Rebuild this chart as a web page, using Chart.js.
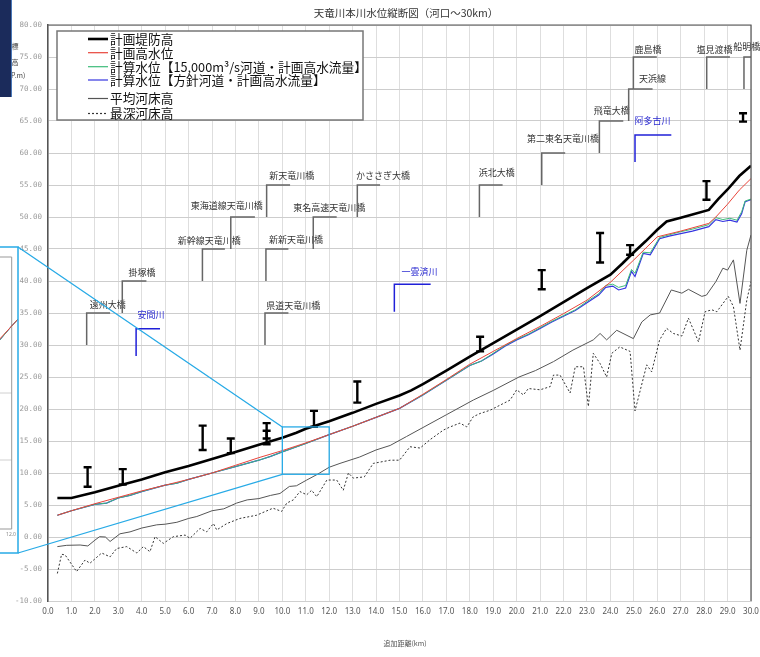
<!DOCTYPE html>
<html>
<head>
<meta charset="utf-8">
<script src="https://cdn.jsdelivr.net/npm/chart.js@4.4.1/dist/chart.umd.min.js"></script>
<style>
  body { margin: 0; background: #fff; }
  #wrap { position: relative; width: 760px; height: 657px; overflow: hidden; }
  #navy { position: absolute; left: 0; top: 0; width: 11px; height: 97px; background: #1b2b5b; border-right: 1px solid #4a78b8; }
</style>
</head>
<body>
<div id="wrap">
  <canvas id="profile" width="760" height="657"></canvas>
  <div id="navy"></div>
</div>
<script>
// 計画堤防高
const levKm = [0.4, 1.0, 2, 3, 4, 5, 6, 7, 8, 9, 10, 10.6, 11, 12, 13, 14, 15, 15.5, 16, 17, 18, 19, 20, 21, 22, 23, 24, 24.5, 25, 25.5, 26, 26.4, 27, 27.5, 28.2, 28.6, 29, 29.5, 30];
const levZ  = [6.1, 6.1, 7.0, 8.0, 9.0, 10.1, 11.1, 12.2, 13.3, 14.4, 15.5, 16.3, 16.9, 18.1, 19.4, 20.8, 22.1, 22.9, 23.9, 26.0, 28.2, 30.3, 32.4, 34.5, 36.7, 38.9, 41.0, 42.7, 44.5, 46.2, 48.0, 49.3, 49.9, 50.4, 51.1, 52.8, 54.3, 56.4, 58.0];

// 計画高水位
const hwlKm = [0.4, 1, 2, 3, 4, 5, 6, 7, 8, 9, 10, 11, 12, 13, 14, 15, 16, 17, 18, 19, 20, 21, 22, 23, 24, 25, 26, 27, 28.2, 28.5, 29, 29.5, 30];
const hwlZ  = [3.4, 4.1, 5.2, 6.2, 7.2, 8.1, 9.0, 10.0, 11.2, 12.4, 13.5, 14.7, 16.0, 17.3, 18.7, 20.1, 22.3, 24.6, 27.0, 29.0, 31.0, 32.9, 34.9, 37.0, 39.8, 43.3, 46.9, 47.8, 49.0, 50.0, 52.0, 54.2, 56.0];

// 計算水位 (both cases share the same sections)
const calcKm = [0.4, 1, 2, 2.5, 3, 3.5, 4, 5, 5.5, 6, 7, 8, 9, 9.5, 10, 11, 12, 13, 14, 15, 16, 17, 18, 18.5, 19, 19.5, 20, 20.5, 21, 21.5, 22, 22.5, 23, 23.5, 23.8, 24.1, 24.35, 24.65, 24.9, 25.05, 25.4, 25.7, 26.1, 26.5, 27, 27.5, 28.2, 28.5, 28.8, 29.1, 29.4, 29.6, 29.75, 30];
const calc15kZ = [3.4, 4.1, 5.1, 5.3, 6.1, 6.5, 7.1, 8.1, 8.4, 9.0, 10.0, 11.0, 12.0, 12.6, 13.3, 14.6, 16.0, 17.3, 18.7, 20.1, 22.2, 24.5, 26.8, 27.5, 28.7, 29.9, 30.9, 31.7, 32.7, 33.7, 34.6, 35.5, 36.8, 38.0, 39.3, 39.5, 39.0, 39.3, 41.8, 41.2, 44.5, 44.4, 46.8, 47.2, 47.7, 48.1, 48.8, 49.9, 49.6, 49.8, 49.5, 50.8, 52.5, 52.8];
const calcPlanZ = [3.4, 4.1, 5.1, 5.3, 6.1, 6.5, 7.1, 8.1, 8.4, 9.0, 10.0, 11.0, 12.0, 12.6, 13.3, 14.6, 16.0, 17.3, 18.7, 20.1, 22.2, 24.5, 26.8, 27.5, 28.6, 29.8, 30.8, 31.6, 32.6, 33.6, 34.5, 35.4, 36.6, 37.8, 39.0, 39.2, 38.6, 38.9, 41.5, 40.7, 44.3, 44.1, 46.6, 47.0, 47.4, 47.8, 48.5, 49.6, 49.3, 49.5, 49.2, 50.5, 52.4, 52.7];

// 平均河床高
const avgKm = [0.4, 0.8, 1.37, 1.7, 2.0, 2.2, 2.45, 2.65, 3.07, 3.5, 4.0, 4.64, 5.0, 5.5, 6.0, 6.35, 7.0, 7.5, 8.05, 8.5, 9.0, 9.5, 9.9, 10.3, 10.6, 11.04, 11.5, 12.0, 12.46, 13.3, 14.0, 14.6, 15.3, 16, 17, 18.15, 19, 20.1, 20.8, 21.57, 22.4, 23.27, 23.56, 23.84, 24.27, 24.98, 25.34, 25.7, 26.1, 26.6, 27.05, 27.33, 27.9, 28.1, 28.5, 28.8, 29.0, 29.25, 29.53, 29.82, 30.0];
const avgZ  = [-1.5, -1.3, -1.25, -1.4, -0.5, 0.05, 0.0, -0.7, 0.5, 0.8, 1.4, 1.9, 2.0, 2.3, 2.9, 3.2, 4.1, 4.4, 5.3, 5.8, 6.0, 6.5, 6.8, 7.9, 8.0, 8.9, 9.8, 10.9, 11.5, 12.5, 13.6, 14.3, 15.7, 17.1, 19.1, 21.4, 22.9, 25.0, 26.0, 27.4, 29.2, 30.8, 31.8, 30.8, 32.3, 31.0, 33.6, 34.7, 35.0, 38.6, 38.1, 38.7, 37.6, 37.8, 39.9, 42.0, 41.7, 43.3, 36.5, 44.8, 47.2];

// 最深河床高
const deepKm = [0.4, 0.58, 0.73, 1.22, 1.58, 1.79, 2.29, 2.65, 2.93, 3.36, 3.79, 4.07, 4.35, 4.57, 4.92, 5.35, 5.85, 6.06, 6.49, 6.77, 7.06, 7.2, 7.63, 8.19, 8.9, 9.6, 9.97, 10.19, 10.47, 10.75, 11.04, 11.25, 11.47, 11.9, 12.32, 12.6, 12.82, 13.03, 13.5, 13.88, 14.6, 15.0, 15.45, 15.88, 16.3, 16.87, 17.16, 17.58, 17.87, 18.15, 18.44, 18.86, 19.29, 19.72, 20.0, 20.29, 20.5, 21.0, 21.43, 21.57, 21.85, 22.28, 22.5, 22.85, 23.06, 23.27, 23.56, 23.84, 24.06, 24.4, 24.84, 25.05, 25.55, 25.76, 26.1, 26.4, 26.69, 27.05, 27.33, 27.76, 28.04, 28.33, 28.54, 29.03, 29.25, 29.53, 29.82, 30.0];
const deepZ  = [-5.7, -2.7, -2.8, -5.4, -3.6, -4.1, -2.5, -3.1, -1.8, -1.5, -2.5, -1.5, -2.3, 0.05, -1.0, 0.05, 0.3, -0.2, 1.35, 0.8, 2.1, 1.1, 2.1, 2.9, 3.4, 4.5, 4.0, 5.3, 5.8, 7.1, 6.6, 7.3, 6.3, 8.9, 8.9, 7.3, 10.0, 9.2, 9.4, 11.5, 12.0, 12.0, 14.1, 13.9, 15.2, 16.7, 17.2, 17.8, 17.2, 18.8, 19.3, 19.8, 20.6, 21.4, 23.0, 22.2, 23.2, 23.0, 23.5, 25.3, 25.3, 22.5, 26.6, 26.6, 20.4, 28.7, 27.1, 25.0, 28.7, 29.7, 29.0, 19.7, 26.9, 25.8, 30.8, 32.6, 31.8, 31.4, 34.2, 30.5, 35.2, 35.5, 35.2, 37.6, 36.0, 29.2, 37.0, 39.9];

// 現況堤防高の範囲 (I marks)
const markKm  = [1.69, 3.19, 6.6, 7.8, 9.33, 9.33, 11.35, 13.2, 18.44, 21.07, 23.56, 24.84, 28.1, 29.66];
const markTop = [10.9, 10.6, 17.4, 15.4, 17.8, 16.6, 19.7, 24.3, 31.3, 41.7, 47.5, 45.6, 55.6, 66.2];
const markBot = [7.85, 8.2, 13.6, 13.1, 14.5, 15.4, 17.2, 21.0, 29.0, 38.7, 42.9, 44.1, 52.7, 64.9];

// 橋梁
const bridgeName = ['遠州大橋', '掛塚橋', '新幹線天竜川橋', '東海道線天竜川橋', '新天竜川橋', '新新天竜川橋', '県道天竜川橋', '東名高速天竜川橋', 'かささぎ大橋', '浜北大橋', '第二東名天竜川橋', '飛竜大橋', '天浜線', '鹿島橋', '塩見渡橋', '船明橋'];
const bridgeKm   = [1.65, 3.17, 6.59, 7.8, 9.33, 9.3, 9.26, 11.32, 13.2, 18.41, 21.07, 23.53, 24.78, 24.98, 28.11, 29.7];
const bridgeLow  = [30, 35, 40, 45, 50, 40, 30, 45, 50, 50, 55, 60, 65, 70, 70, 70];
const bridgeHigh = [35, 40, 45, 50, 55, 45, 35, 50, 55, 55, 60, 65, 70, 75, 75, 75];
const bridgeEnd  = [2.65, 4.2, 7.55, 8.83, 10.33, 10.26, 10.26, 12.32, 14.17, 19.4, 22.07, 24.55, 25.8, 25.98, 29.1, 30];
const bridgeTxtKm = [2.55, 4.01, 6.88, 7.63, 10.4, 10.58, 10.47, 12.0, 14.3, 19.15, 21.98, 24.06, 25.8, 25.6, 28.44, 29.82];
const bridgeTxtZ  = [36.25, 41.3, 46.25, 51.8, 56.45, 46.4, 36.1, 51.5, 56.45, 57.0, 62.3, 66.7, 71.7, 76.2, 76.2, 76.6];

// 支川合流点
const tribName = ['安間川', '一雲済川', '阿多古川'];
const tribKm   = [3.76, 14.78, 25.05];
const tribLow  = [28.3, 35.2, 58.6];
const tribHigh = [32.55, 39.5, 62.8];
const tribEnd  = [4.78, 16.33, 26.6];
const tribTxtKm = [4.4, 15.85, 25.8];
const tribTxtZ  = [34.7, 41.45, 65.05];

// 拡大範囲
const zoomKm = [10, 12];
const zoomZ = [9.8, 17.2];

const pts = (xs, ys) => xs.map((x, i) => ({ x: x, y: ys[i] }));

Chart.defaults.font.family = "'Noto Sans CJK JP', 'Noto Sans', sans-serif";

const datasets = [
  { label: '計画堤防高', data: pts(levKm, levZ), borderColor: '#000', borderWidth: 2.6 },
  { label: '計画高水位', data: pts(hwlKm, hwlZ), borderColor: '#e8443a', borderWidth: 1 },
  { label: '計算水位【15,000m³/s河道・計画高水流量】', data: pts(calcKm, calc15kZ), borderColor: '#3dbb7a', borderWidth: 1 },
  { label: '計算水位【方針河道・計画高水流量】', data: pts(calcKm, calcPlanZ), borderColor: '#3535e0', borderWidth: 1.2 },
  { label: '平均河床高', data: pts(avgKm, avgZ), borderColor: '#555', borderWidth: 1 },
  { label: '最深河床高', data: pts(deepKm, deepZ), borderColor: '#333', borderWidth: 1, borderDash: [2, 2] }
];
datasets.forEach(d => { d.pointRadius = 0; d.fill = false; d.tension = 0; });

function bracket(ctx, xs, ys, km, low, high, end) {
  ctx.beginPath();
  ctx.moveTo(xs.getPixelForValue(km), ys.getPixelForValue(low));
  ctx.lineTo(xs.getPixelForValue(km), ys.getPixelForValue(high));
  ctx.lineTo(xs.getPixelForValue(end), ys.getPixelForValue(high));
  ctx.stroke();
}

const overlay = {
  id: 'overlay',
  beforeDatasetsDraw(chart) {
    const ctx = chart.ctx, xs = chart.scales.x, ys = chart.scales.y;
    ctx.save();
    ctx.textAlign = 'center';
    ctx.textBaseline = 'middle';
    ctx.font = "9px 'Noto Sans CJK JP'";
    // bridges
    ctx.strokeStyle = '#666';
    ctx.lineWidth = 1.5;
    bridgeName.forEach((n, i) => {
      bracket(ctx, xs, ys, bridgeKm[i], bridgeLow[i], bridgeHigh[i], bridgeEnd[i]);
      ctx.fillStyle = '#333';
      ctx.fillText(n, xs.getPixelForValue(bridgeTxtKm[i]), ys.getPixelForValue(bridgeTxtZ[i]));
    });
    // tributaries
    ctx.strokeStyle = '#2020d8';
    tribName.forEach((n, i) => {
      bracket(ctx, xs, ys, tribKm[i], tribLow[i], tribHigh[i], tribEnd[i]);
      ctx.fillStyle = '#2a2ad0';
      ctx.fillText(n, xs.getPixelForValue(tribTxtKm[i]), ys.getPixelForValue(tribTxtZ[i]));
    });
    ctx.restore();
  },
  afterDatasetsDraw(chart) {
    const ctx = chart.ctx, xs = chart.scales.x, ys = chart.scales.y, a = chart.chartArea;
    ctx.save();

    // I marks
    ctx.strokeStyle = '#000';
    ctx.lineWidth = 2.4;
    markKm.forEach((km, i) => {
      const x = xs.getPixelForValue(km), t = ys.getPixelForValue(markTop[i]), b = ys.getPixelForValue(markBot[i]);
      ctx.beginPath();
      ctx.moveTo(x, t); ctx.lineTo(x, b);
      ctx.moveTo(x - 4, t); ctx.lineTo(x + 4, t);
      ctx.moveTo(x - 4, b); ctx.lineTo(x + 4, b);
      ctx.stroke();
    });

    // frame top / right
    ctx.strokeStyle = '#555';
    ctx.lineWidth = 1.2;
    ctx.beginPath();
    ctx.moveTo(a.left, a.top); ctx.lineTo(a.right, a.top); ctx.lineTo(a.right, a.bottom);
    ctx.stroke();

    // legend
    const L = 57, T = 31, R = 363, B = 120;
    ctx.fillStyle = '#fff';
    ctx.fillRect(L, T, R - L, B - T);
    ctx.strokeStyle = '#777';
    ctx.lineWidth = 1.5;
    ctx.strokeRect(L, T, R - L, B - T);
    const rows = [39, 52.7, 66.7, 80, 98.5, 113.5];
    ctx.font = "12.7px 'Noto Sans CJK JP'";
    ctx.textBaseline = 'middle';
    ctx.textAlign = 'left';
    chart.data.datasets.forEach((d, i) => {
      ctx.strokeStyle = d.borderColor;
      ctx.lineWidth = i === 0 ? 2.6 : 1.2;
      ctx.setLineDash(d.borderDash || []);
      ctx.beginPath();
      ctx.moveTo(88, rows[i]); ctx.lineTo(108, rows[i]);
      ctx.stroke();
      ctx.setLineDash([]);
      ctx.fillStyle = '#111';
      ctx.fillText(d.label, 110, rows[i]);
    });

    // zoom box and connectors
    const zx0 = xs.getPixelForValue(zoomKm[0]), zx1 = xs.getPixelForValue(zoomKm[1]);
    const zy0 = ys.getPixelForValue(zoomZ[1]), zy1 = ys.getPixelForValue(zoomZ[0]);
    ctx.strokeStyle = '#27aae6';
    ctx.lineWidth = 1.3;
    ctx.strokeRect(zx0, zy0, zx1 - zx0, zy1 - zy0);
    const iL = 0, iT = 247, iR = 18, iB = 553;
    ctx.beginPath();
    ctx.moveTo(iR, iT); ctx.lineTo(zx0, zy0);
    ctx.moveTo(iR, iB); ctx.lineTo(zx0, zy1);
    ctx.stroke();

    // enlarged view (only its right edge is on the page)
    ctx.save();
    ctx.fillStyle = '#fff';
    ctx.fillRect(iL, iT, iR - iL, iB - iT);
    ctx.beginPath(); ctx.rect(iL, iT, iR - iL, iB - iT); ctx.clip();
    ctx.strokeStyle = '#d0d0d0';
    ctx.lineWidth = 1;
    [393, 460].forEach(y => { ctx.beginPath(); ctx.moveTo(0, y); ctx.lineTo(11.7, y); ctx.stroke(); });
    ctx.strokeStyle = '#999';
    ctx.beginPath();
    ctx.moveTo(0, 257); ctx.lineTo(11.7, 257); ctx.lineTo(11.7, 529); ctx.lineTo(0, 529);
    ctx.stroke();
    const ix = km => 11.7 + (km - 12) * 40, iy = z => 460 - (z - 12) * 33.5;
    [3, 2, 1].forEach(k => {
      const d = chart.data.datasets[k];
      ctx.strokeStyle = d.borderColor;
      ctx.lineWidth = 1;
      ctx.beginPath();
      d.data.forEach((p, j) => { j ? ctx.lineTo(ix(p.x), iy(p.y)) : ctx.moveTo(ix(p.x), iy(p.y)); });
      ctx.stroke();
    });
    ctx.fillStyle = '#888';
    ctx.font = "5px 'Noto Sans'";
    ctx.textAlign = 'center';
    ctx.fillText('12.0', 11, 535);
    ctx.restore();
    ctx.strokeStyle = '#27aae6';
    ctx.lineWidth = 1.5;
    ctx.strokeRect(iL - 2, iT, iR + 2, iB - iT);

    // titles
    ctx.fillStyle = '#333';
    ctx.textAlign = 'center';
    ctx.textBaseline = 'middle';
    ctx.font = "10.5px 'Noto Sans CJK JP'";
    ctx.fillText('天竜川本川水位縦断図（河口～30km）', 406, 13);
    ctx.font = "7px 'Noto Sans CJK JP'";
    ctx.fillStyle = '#555';
    ctx.fillText('追加距離(km)', 405, 643);
    ctx.fillStyle = '#444';
    ctx.fillText('標', 15, 46);
    ctx.fillText('高', 15, 62);
    ctx.fillText('(TP.m)', 15, 75);
    ctx.restore();
  }
};

new Chart(document.getElementById('profile'), {
  type: 'line',
  data: { datasets: datasets },
  options: {
    responsive: false,
    animation: false,
    devicePixelRatio: 1,
    layout: { padding: { top: 25, right: 9, left: 0, bottom: 0 } },
    plugins: { legend: { display: false }, tooltip: { enabled: false } },
    scales: {
      x: {
        type: 'linear', min: 0, max: 30,
        afterFit: s => { s.height = 56; s.paddingLeft = 0; s.paddingRight = 0; },
        grid: { color: '#dedede', drawTicks: false },
        border: { color: '#cfcfcf' },
        ticks: { stepSize: 1, padding: 6, color: '#555', font: { size: 8, family: "'Noto Sans'" }, maxRotation: 0, autoSkip: false, callback: v => v.toFixed(1) }
      },
      y: {
        min: -10, max: 80,
        afterFit: s => { s.width = 48; s.paddingTop = 0; s.paddingBottom = 0; },
        grid: { color: '#cdcdcd', drawTicks: false },
        border: { color: '#555', width: 1.5 },
        ticks: { stepSize: 5, padding: 6, color: '#999', font: { size: 7.5, family: "'DejaVu Sans Mono'" }, callback: v => v.toFixed(2) }
      }
    }
  },
  plugins: [overlay]
});
</script>
</body>
</html>
